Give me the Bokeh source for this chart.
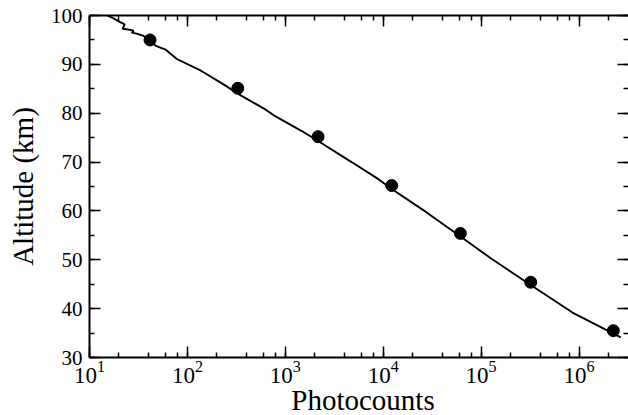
from bokeh.plotting import figure
from bokeh.layouts import column
from bokeh.models import LogAxis, LinearAxis, SingleIntervalTicker, LogTicker, CustomJSTickFormatter, Div
from bokeh.embed import file_html
from bokeh.resources import INLINE

# Lidar profile (photocounts vs altitude)
line_counts = [15.2, 17.6, 20.8, 22.9, 21.8, 25.1, 28.3, 27.0, 30.3, 35.0, 39.4, 42.3,
               47.5, 60.1, 78.0, 137.5, 220.8, 354, 610, 771, 1459, 2163, 4750, 8930,
               12220, 27300, 61000, 129800, 318000, 857000, 2670000]
line_alt = [100.0, 99.4, 98.6, 98.2, 97.3, 97.1, 96.9, 96.5, 96.3, 95.9, 95.3, 94.7,
            93.8, 93.0, 91.1, 88.7, 86.2, 83.6, 80.9, 79.5, 76.4, 74.3, 70.0, 66.5,
            64.5, 59.8, 54.8, 50.1, 44.9, 39.2, 34.1]

# Model points
dot_counts = [41.5, 327, 2160, 12200, 61400, 321000, 2240000]
dot_alt = [95.0, 85.1, 75.2, 65.2, 55.4, 45.4, 35.5]

FONT = "Liberation Serif"

p = figure(width=628, height=390, x_axis_type="log", x_range=(10, 3.2e6), y_range=(30, 100),
           output_backend="svg", toolbar_location=None,
           min_border_left=89, min_border_right=0, min_border_top=15, min_border_bottom=33)
p.outline_line_color = None
p.grid.visible = False
p.background_fill_color = "white"

p.line(line_counts, line_alt, line_width=1.9, color="black")
p.scatter(dot_counts, dot_alt, size=12, color="black")


def style(ax, labels=True):
    ax.axis_line_color = "black"
    ax.axis_line_width = 2
    ax.major_tick_in = 11
    ax.major_tick_out = 0
    ax.minor_tick_in = 5
    ax.minor_tick_out = 0
    ax.major_tick_line_width = 1.5
    ax.minor_tick_line_width = 1.5
    ax.major_tick_line_color = "black"
    ax.minor_tick_line_color = "black"
    ax.major_label_text_color = "black"
    ax.major_label_text_font = FONT
    ax.axis_label_text_color = "black"
    ax.axis_label_text_font = FONT
    ax.axis_label_text_font_style = "normal"
    if not labels:
        ax.formatter = CustomJSTickFormatter(code="return '';")
        ax.major_label_text_font_size = "1px"
        ax.major_label_standoff = 0
        ax.axis_label_standoff = 0


xb = p.xaxis[0]
style(xb)
xb.ticker = LogTicker()
xb.major_label_text_font_size = "23px"
xb.major_label_standoff = 3

yl = p.yaxis[0]
style(yl)
yl.ticker = SingleIntervalTicker(interval=10, num_minor_ticks=2)
yl.major_label_text_font_size = "21px"
yl.major_label_standoff = 7
yl.axis_label = "Altitude (km)"
yl.axis_label_text_font_size = "29px"
yl.axis_label_standoff = 9

top = LogAxis(ticker=LogTicker())
style(top, labels=False)
p.add_layout(top, "above")

right = LinearAxis(ticker=SingleIntervalTicker(interval=10, num_minor_ticks=2))
style(right, labels=False)
right.axis_line_color = None
p.add_layout(right, "right")

xlabel = Div(
    text=("<div style=\"font-family:'Liberation Serif'; font-size:29px; line-height:29px; "
          "color:black; position:relative; top:-4px; left:49px; width:628px; "
          "text-align:center; white-space:nowrap;\">Photocounts</div>"),
    width=628, height=25, margin=(0, 0, 0, 0), styles={"overflow": "visible"})

layout = column(p, xlabel, spacing=0)

open("out.html", "w").write(file_html(layout, INLINE))
